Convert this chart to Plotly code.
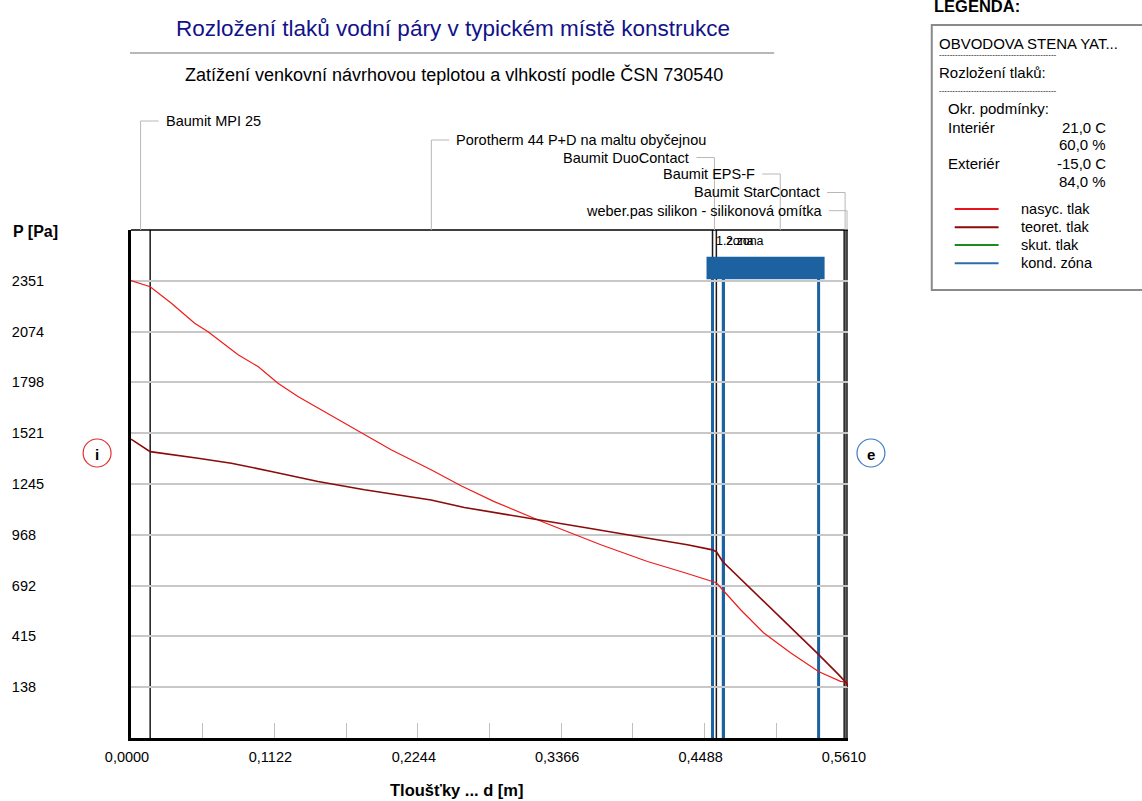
import plotly.graph_objects as go

# ---------------- data ----------------
layer_names = ["Baumit MPI 25", "Porotherm 44 P+D na maltu obyčejnou", "Baumit DuoContact",
               "Baumit EPS-F", "Baumit StarContact", "weber.pas silikon - silikonová omítka"]
layer_thick = [0.015, 0.44, 0.003, 0.100, 0.0015, 0.0015]

nasyc_x = [0.0, 0.015, 0.0316, 0.0498, 0.0603, 0.0838, 0.0994, 0.115, 0.1306, 0.1463, 0.1619,
           0.1827, 0.2035, 0.2348, 0.2582, 0.2842, 0.3233, 0.3676, 0.4041, 0.4327, 0.455, 0.458,
           0.4629, 0.477, 0.4949, 0.516, 0.5379, 0.5551, 0.558, 0.561]
nasyc_p = [2352, 2319, 2229, 2120, 2074, 1948, 1884, 1793, 1721, 1658, 1594,
           1512, 1431, 1322, 1235, 1149, 1035, 914, 823, 763, 716, 707,
           669, 560, 435, 326, 224, 170, 168, 165]

teoret_x = [0.0, 0.015, 0.0525, 0.0785, 0.1098, 0.1463, 0.1827, 0.2348, 0.2608, 0.3051, 0.3572,
            0.3988, 0.4353, 0.455, 0.458, 0.4629, 0.5264, 0.5369, 0.5525, 0.5598, 0.561]
teoret_p = [1489, 1421, 1385, 1358, 1313, 1258, 1213, 1158, 1117, 1064, 1005,
            956, 914, 886, 876, 823, 397, 324, 215, 161, 139]

zone_labels = ["1.zona", "2.zona"]
zone_start = [0.455, 0.4635]
zone_end = [0.4635, 0.538]

x_tickvals = [0.0, 0.0561, 0.1122, 0.1683, 0.2244, 0.2805, 0.3366, 0.3927, 0.4488, 0.5049, 0.561]
x_ticktext = ["0,0000", "", "0,1122", "", "0,2244", "", "0,3366", "", "0,4488", "", "0,5610"]
y_tickvals = [138, 415, 692, 968, 1245, 1521, 1798, 2074, 2351]
y_ticktext = ["138\u2007", "415\u2007", "692\u2007", "968\u2007", "1245", "1521", "1798", "2074", "2351"]
y_range = [-138.3, 2627.7]

legend_series = ["nasyc. tlak", "teoret. tlak", "skut. tlak", "kond. zóna"]
legend_colors = ["#e8141c", "#8b0a0a", "#1a8c1a", "#2a6eaa"]
cond_labels = ["Interiér", "", "Exteriér", ""]
cond_values = ["21,0 C", "60,0 %", "-15,0 C", "84,0 %"]

# ---------------- layout helpers ----------------
W_FIG, H_FIG = 1142, 801
L, R, T, B = 129, 848, 230, 738
PW, PH = R - L, B - T
FONT = "Liberation Sans, Arial, sans-serif"


def px(x):
    return (x - L) / PW


def py(y):
    return (B - y) / PH


RED = "#ee1c1c"
DRED = "#8b0a0a"
BLUE = "#1d62a0"
GRAY = "#b8b8b8"

fig = go.Figure()
fig.add_trace(go.Scatter(x=nasyc_x, y=nasyc_p, mode="lines",
                         line=dict(color=RED, width=1.2), hoverinfo="skip"))
fig.add_trace(go.Scatter(x=teoret_x, y=teoret_p, mode="lines",
                         line=dict(color=DRED, width=1.6), hoverinfo="skip"))

shapes = []
annotations = []

# layer boundaries
bounds = [0.0]
for t in layer_thick:
    bounds.append(bounds[-1] + t)
for b in bounds[1:]:
    shapes.append(dict(type="line", xref="x", yref="paper", x0=b, x1=b, y0=0, y1=1,
                       line=dict(color="#1a1a1a", width=1.5), layer="between"))

# top border
shapes.append(dict(type="line", xref="paper", yref="paper", x0=0, x1=1, y0=1, y1=1,
                   line=dict(color="black", width=1.5)))

# condensation zones
for zs, ze in zip(zone_start, zone_end):
    for xv in (zs, ze):
        shapes.append(dict(type="line", xref="x", yref="paper", x0=xv, x1=xv, y0=0, y1=py(268),
                           line=dict(color=BLUE, width=3), layer="between"))
shapes.append(dict(type="rect", xref="x", yref="paper", x0=min(zone_start), x1=max(zone_end),
                   y0=py(273.3), y1=py(262.7), fillcolor=BLUE,
                   line=dict(color=BLUE, width=12), layer="above"))
for lab, zs in zip(zone_labels, zone_start):
    annotations.append(dict(text=lab, xref="x", yref="paper", x=zs, y=py(241.5), xanchor="left",
                            yanchor="middle", xshift=1, showarrow=False,
                            font=dict(size=12.5, color="black", family=FONT)))

# layer labels with connectors
label_y = [121, 140, 157.5, 174, 192.5, 210.7]
label_side = [1, 1, -1, -1, -1, -1]
for i, name in enumerate(layer_names):
    c = (bounds[i] + bounds[i + 1]) / 2
    s = label_side[i]
    yy = py(label_y[i])
    shapes.append(dict(type="line", xref="x", yref="paper", xsizemode="pixel", xanchor=c,
                       x0=0, x1=0, y0=yy, y1=1, line=dict(color=GRAY, width=1)))
    shapes.append(dict(type="line", xref="x", yref="paper", xsizemode="pixel", xanchor=c,
                       x0=0, x1=18 * s, y0=yy, y1=yy, line=dict(color=GRAY, width=1)))
    annotations.append(dict(text=name, xref="x", yref="paper", x=c, y=yy,
                            xanchor="left" if s > 0 else "right", yanchor="middle",
                            xshift=23 * s, showarrow=False,
                            font=dict(size=14.5, color="black", family=FONT)))

# titles
annotations.append(dict(text="Rozložení tlaků vodní páry v typickém místě konstrukce",
                        xref="paper", yref="paper", x=px(452), y=py(28), xanchor="center",
                        yanchor="middle", showarrow=False,
                        font=dict(size=22.5, color="#12128a", family=FONT)))
shapes.append(dict(type="line", xref="paper", yref="paper", x0=px(128), x1=px(774),
                   y0=py(53), y1=py(53), line=dict(color="#a0a0a0", width=1.5)))
annotations.append(dict(text="Zatížení venkovní návrhovou teplotou a vlhkostí podle ČSN 730540",
                        xref="paper", yref="paper", x=px(453), y=py(74), xanchor="center",
                        yanchor="middle", showarrow=False,
                        font=dict(size=18, color="black", family=FONT)))

# axis titles
annotations.append(dict(text="<b>P [Pa]</b>", xref="paper", yref="paper", x=px(9), y=py(231),
                        xanchor="left", yanchor="middle", showarrow=False,
                        font=dict(size=16, color="black", family=FONT)))
annotations.append(dict(text="<b>Tloušťky ... d [m]</b>", xref="paper", yref="paper", x=px(456),
                        y=py(790), xanchor="center", yanchor="middle", showarrow=False,
                        font=dict(size=16.5, color="black", family=FONT)))

# i / e circles
for cx, col, letter in ((95, "#e03030", "i"), (871, "#3a7cc0", "e")):
    shapes.append(dict(type="circle", xref="paper", yref="paper", x0=px(cx - 14), x1=px(cx + 14),
                       y0=py(453 + 14), y1=py(453 - 14), line=dict(color=col, width=1.2)))
    annotations.append(dict(text="<b>" + letter + "</b>", xref="paper", yref="paper", x=px(cx),
                            y=py(454), xanchor="center", yanchor="middle", showarrow=False,
                            font=dict(size=15, color="black", family=FONT)))

# legend panel
annotations.append(dict(text="<b>LEGENDA:</b>", xref="paper", yref="paper", x=px(932), y=py(6),
                        xanchor="left", yanchor="middle", showarrow=False,
                        font=dict(size=16.5, color="black", family=FONT)))
shapes.append(dict(type="rect", xref="paper", yref="paper", x0=px(932), x1=px(1150),
                   y0=py(290), y1=py(25), line=dict(color="#8a8a8a", width=2),
                   fillcolor="white"))
legend_text = [("OBVODOVA STENA YAT...", 937, 43.3), ("Rozložení tlaků:", 937, 72.7),
               ("Okr. podmínky:", 946, 109)]
for txt, xx, yy in legend_text:
    annotations.append(dict(text=txt, xref="paper", yref="paper", x=px(xx), y=py(yy),
                            xanchor="left", yanchor="middle", showarrow=False,
                            font=dict(size=15, color="black", family=FONT)))
for yy in (55, 90.7):
    annotations.append(dict(text="-" * 44, xref="paper", yref="paper", x=px(937), y=py(yy),
                            xanchor="left", yanchor="middle", showarrow=False,
                            font=dict(size=8, color="black", family=FONT)))
cond_y = [127.7, 144.3, 163.3, 181.7]
for lab, val, yy in zip(cond_labels, cond_values, cond_y):
    if lab:
        annotations.append(dict(text=lab, xref="paper", yref="paper", x=px(946), y=py(yy),
                                xanchor="left", yanchor="middle", showarrow=False,
                                font=dict(size=15, color="black", family=FONT)))
    annotations.append(dict(text=val, xref="paper", yref="paper", x=px(1109), y=py(yy),
                            xanchor="right", yanchor="middle", showarrow=False,
                            font=dict(size=15, color="black", family=FONT)))
leg_y = [209, 227.3, 245, 263.3]
for name, col, yy in zip(legend_series, legend_colors, leg_y):
    shapes.append(dict(type="line", xref="paper", yref="paper", x0=px(955), x1=px(999),
                       y0=py(yy), y1=py(yy), line=dict(color=col, width=2)))
    annotations.append(dict(text=name, xref="paper", yref="paper", x=px(1019), y=py(yy),
                            xanchor="left", yanchor="middle", showarrow=False,
                            font=dict(size=14.5, color="black", family=FONT)))

fig.update_layout(
    width=W_FIG, height=H_FIG, autosize=False,
    margin=dict(l=L, r=W_FIG - R, t=T, b=H_FIG - B, pad=0),
    plot_bgcolor="white", paper_bgcolor="white", showlegend=False,
    font=dict(family=FONT, size=13, color="black"),
    shapes=shapes, annotations=annotations,
    xaxis=dict(range=[0, 0.561], tickvals=x_tickvals, ticktext=x_ticktext, ticks="inside",
               ticklen=15, tickcolor="#c0c0c0", tickwidth=1.2, showgrid=False, showline=True,
               linecolor="black", linewidth=3, zeroline=False, ticklabelstandoff=4,
               ticklabelshift=-4,
               tickfont=dict(size=14.5, color="black", family=FONT)),
    yaxis=dict(range=y_range, tickvals=y_tickvals, ticktext=y_ticktext, ticks="",
               showgrid=True, gridcolor="#c8c8c8", gridwidth=1.5, showline=True,
               linecolor="black", linewidth=3, zeroline=False, ticklabelstandoff=81,
               tickfont=dict(size=14.5, color="black", family=FONT)),
)

fig.write_html("out.html")
